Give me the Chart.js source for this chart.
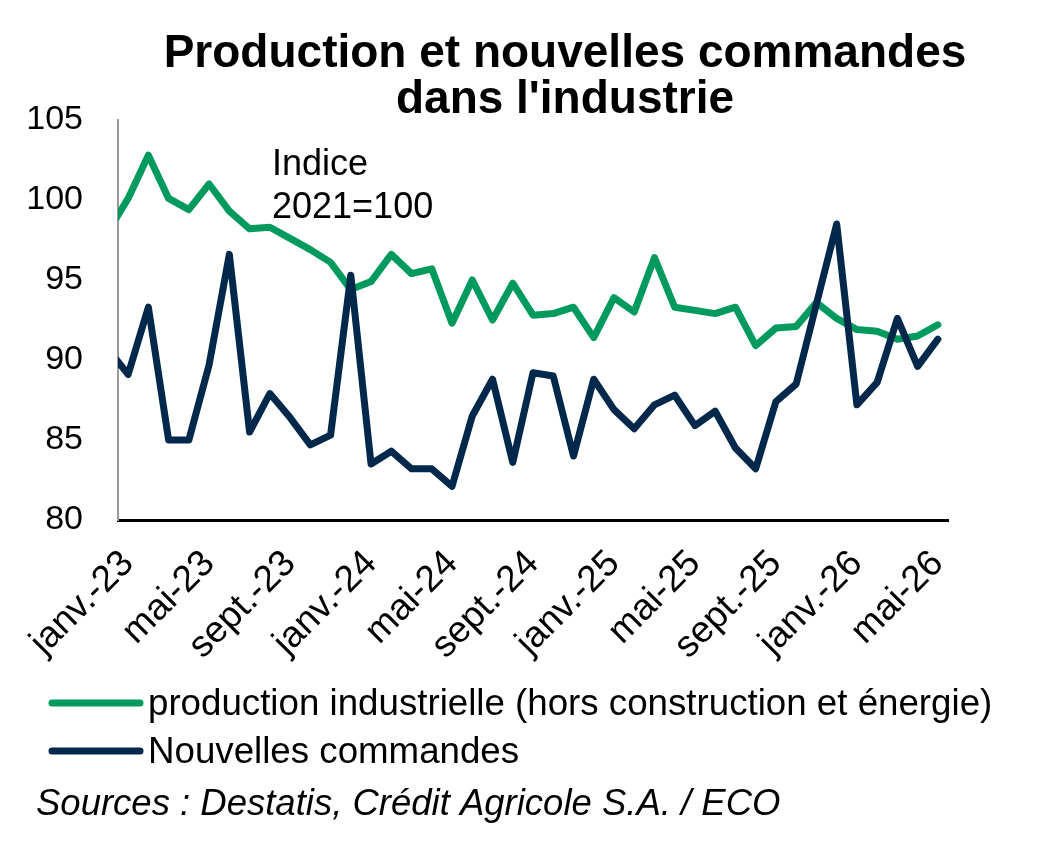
<!DOCTYPE html>
<html>
<head>
<meta charset="utf-8">
<script src="https://cdn.jsdelivr.net/npm/chart.js@4.4.1/dist/chart.umd.min.js"></script>
<style>
  html, body { margin: 0; padding: 0; background: #ffffff; }
  #wrap { width: 1040px; height: 845px; position: relative; }
</style>
</head>
<body>
<div id="wrap"><canvas id="c" width="1040" height="845"></canvas></div>
<script>
// Months (first entry déc.-22 lies just outside the visible range, clipped at the axis)
const months = ['déc.-22',
  'janv.-23','févr.-23','mars-23','avr.-23','mai-23','juin-23','juil.-23','août-23','sept.-23','oct.-23','nov.-23','déc.-23',
  'janv.-24','févr.-24','mars-24','avr.-24','mai-24','juin-24','juil.-24','août-24','sept.-24','oct.-24','nov.-24','déc.-24',
  'janv.-25','févr.-25','mars-25','avr.-25','mai-25','juin-25','juil.-25','août-25','sept.-25','oct.-25','nov.-25','déc.-25',
  'janv.-26','févr.-26','mars-26','avr.-26','mai-26'];

const production = [98.0,
  100.1, 102.8, 100.1, 99.4, 101.0, 99.3, 98.2, 98.3, 97.6, 96.9, 96.1, 94.4,
  94.9, 96.6, 95.4, 95.7, 92.3, 95.0, 92.5, 94.8, 92.8, 92.9, 93.3, 91.4,
  93.9, 93.0, 96.4, 93.3, 93.1, 92.9, 93.3, 90.9, 92.0, 92.1, 93.6, 92.6,
  91.9, 91.8, 91.3, 91.5, 92.2];

const commandes = [90.7,
  89.1, 93.3, 85.0, 85.0, 89.7, 96.6, 85.5, 87.9, 86.4, 84.7, 85.3, 95.3,
  83.5, 84.3, 83.2, 83.2, 82.1, 86.5, 88.8, 83.6, 89.2, 89.0, 84.0, 88.8,
  86.9, 85.7, 87.2, 87.8, 85.9, 86.8, 84.5, 83.2, 87.4, 88.5, 93.5, 98.5,
  87.2, 88.6, 92.6, 89.6, 91.3];

const tickMonths = ['janv.-23','mai-23','sept.-23','janv.-24','mai-24','sept.-24','janv.-25','mai-25','sept.-25','janv.-26','mai-26'];
const yTicks = [80, 85, 90, 95, 100, 105];

const seriesNames = ['production industrielle (hors construction et énergie)', 'Nouvelles commandes'];
const titleLines = ['Production et nouvelles commandes', "dans l'industrie"];
const noteLines = ['Indice', '2021=100'];
const sourceText = 'Sources : Destatis, Crédit Agricole S.A. / ECO';

const GREEN = '#009a5e';
const NAVY = '#00284a';
const FONT = '"Liberation Sans", Arial, Helvetica, sans-serif';

// index 0 = janv.-23
const idxOf = m => months.indexOf(m) - 1;
const toPoints = arr => arr.map((v, i) => ({ x: i - 1, y: v }));

const textPlugin = {
  id: 'texts',
  afterDraw(chart) {
    const ctx = chart.ctx;
    ctx.save();
    ctx.fillStyle = '#000';
    // Title
    ctx.font = 'bold 46px ' + FONT;
    ctx.textAlign = 'center';
    ctx.textBaseline = 'alphabetic';
    ctx.fillText(titleLines[0], 565, 67);
    ctx.fillText(titleLines[1], 565, 113);
    // Note
    ctx.font = '36px ' + FONT;
    ctx.textAlign = 'left';
    ctx.fillText(noteLines[0], 272, 175);
    ctx.fillText(noteLines[1], 272, 218);
    // Legend
    const cols = [GREEN, NAVY];
    const ys = [703, 751];
    const bases = [715, 763];
    for (let i = 0; i < 2; i++) {
      ctx.strokeStyle = cols[i];
      ctx.lineWidth = 7;
      ctx.lineCap = 'round';
      ctx.beginPath();
      ctx.moveTo(52, ys[i]);
      ctx.lineTo(140, ys[i]);
      ctx.stroke();
      ctx.font = '36.7px ' + FONT;
      ctx.fillText(seriesNames[i], 148, bases[i]);
    }
    // Source
    ctx.font = 'italic 36.5px ' + FONT;
    ctx.fillText(sourceText, 36, 815);
    ctx.restore();
  }
};

const bgPlugin = {
  id: 'bg',
  beforeDraw(chart) {
    const ctx = chart.ctx;
    ctx.save();
    ctx.fillStyle = '#fff';
    ctx.fillRect(0, 0, chart.width, chart.height);
    ctx.restore();
  }
};

new Chart(document.getElementById('c'), {
  type: 'line',
  data: {
    datasets: [
      { label: seriesNames[0], data: toPoints(production), borderColor: GREEN, backgroundColor: GREEN,
        borderWidth: 7, pointRadius: 0, tension: 0, borderJoinStyle: 'round', borderCapStyle: 'round', order: 2 },
      { label: seriesNames[1], data: toPoints(commandes), borderColor: NAVY, backgroundColor: NAVY,
        borderWidth: 7, pointRadius: 0, tension: 0, borderJoinStyle: 'round', borderCapStyle: 'round', order: 1 }
    ]
  },
  options: {
    responsive: false,
    animation: false,
    layout: { padding: { left: 0, right: 92, top: 120, bottom: 175 } },
    plugins: { legend: { display: false }, title: { display: false }, tooltip: { enabled: false } },
    scales: {
      x: {
        type: 'linear',
        min: -0.5,
        max: 40.5,
        afterBuildTicks: s => { s.ticks = tickMonths.map(m => ({ value: idxOf(m) })); },
        afterFit: s => { s.height = 150; },
        ticks: {
          autoSkip: false,
          minRotation: 45, maxRotation: 45,
          padding: 22,
          color: '#000',
          font: { family: FONT, size: 37 },
          callback: v => months[v + 1]
        },
        grid: { display: false, drawTicks: false },
        border: { display: true, color: '#000', width: 3 }
      },
      y: {
        min: 80, max: 105,
        afterBuildTicks: s => { s.ticks = yTicks.map(v => ({ value: v })); },
        afterFit: s => { s.width = 118; },
        ticks: { padding: 35, color: '#000', font: { family: FONT, size: 34 } },
        grid: { display: false, drawTicks: false },
        border: { display: true, color: '#9a9a9a', width: 2 }
      }
    }
  },
  plugins: [bgPlugin, textPlugin]
});
</script>
</body>
</html>
